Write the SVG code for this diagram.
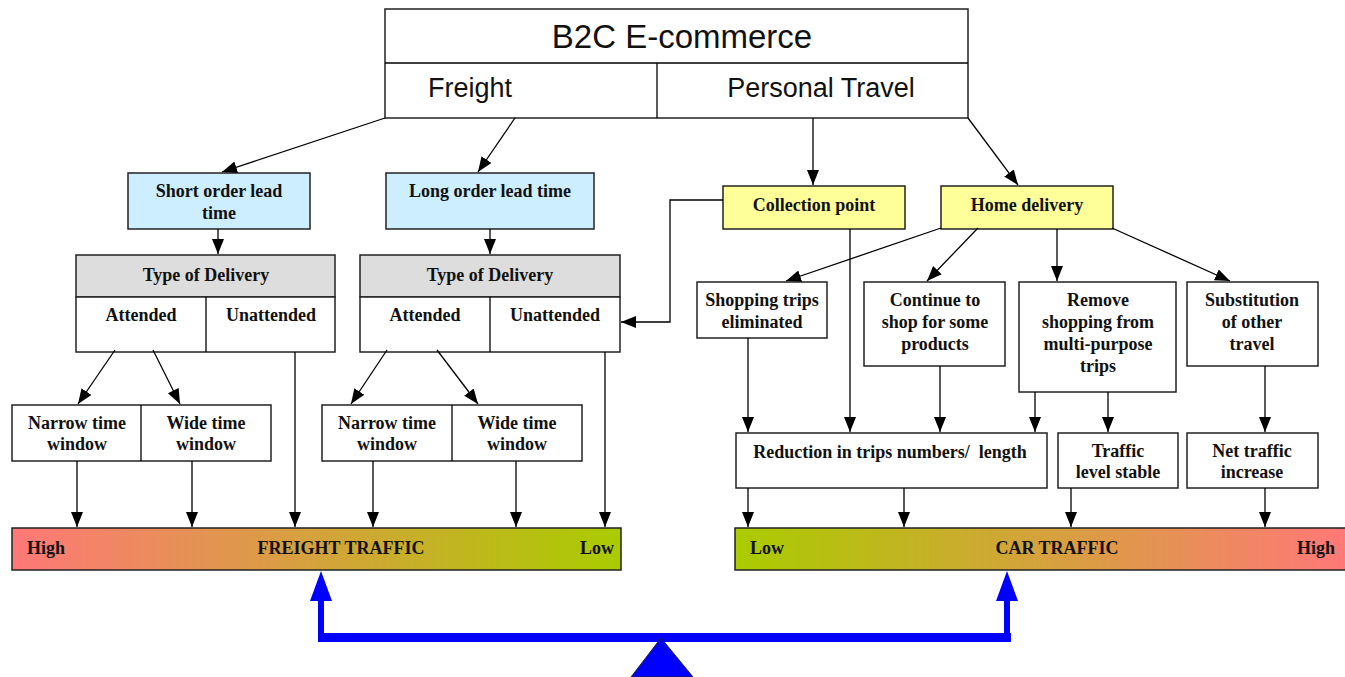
<svg xmlns="http://www.w3.org/2000/svg" width="1345" height="677" viewBox="0 0 1345 677">
<style>
.box{fill:#fff;stroke:#222;stroke-width:1.5}
.blue{fill:#cceeff;stroke:#222;stroke-width:1.5}
.yel{fill:#ffff99;stroke:#222;stroke-width:1.5}
.grey{fill:#dddddd;stroke:#222;stroke-width:1.5}
.t{font-family:"Liberation Serif","Times New Roman",serif;font-weight:bold;font-size:18px;fill:#111;text-anchor:middle;white-space:pre}
.tl{font-family:"Liberation Serif","Times New Roman",serif;font-weight:bold;font-size:18px;fill:#111}
.s{font-family:"Liberation Sans",Arial,sans-serif;fill:#111;text-anchor:middle}
.c{fill:none;stroke:#000;stroke-width:1.3;marker-end:url(#ah)}
.cn{fill:none;stroke:#000;stroke-width:1.3}
</style>
<defs>
<marker id="ah" markerUnits="userSpaceOnUse" markerWidth="16" markerHeight="16" viewBox="0 0 16 16" refX="15" refY="8" orient="auto">
<path d="M0,2 L15,8 L0,14 z" fill="#000"/>
</marker>
<linearGradient id="gF" x1="0" y1="0" x2="1" y2="0">
<stop offset="0" stop-color="#ff7878"/>
<stop offset="1" stop-color="#aacc00"/>
</linearGradient>
<linearGradient id="gC" x1="0" y1="0" x2="1" y2="0">
<stop offset="0" stop-color="#aacc00"/>
<stop offset="1" stop-color="#ff7878"/>
</linearGradient>
</defs>

<g id="b2c">
<rect class="box" x="385" y="9" width="583" height="109"/>
<line class="cn" x1="385" y1="63" x2="968" y2="63"/>
<line class="cn" x1="657" y1="63" x2="657" y2="118"/>
<text class="s" x="682" y="48" font-size="33">B2C E-commerce</text>
<text class="s" x="470" y="97" font-size="27">Freight</text>
<text class="s" x="821" y="97" font-size="27">Personal Travel</text>
</g>

<g id="short-lead">
<rect class="blue" x="128" y="173" width="182" height="56"/>
<text class="t" x="219" y="197">Short order lead</text>
<text class="t" x="219" y="219">time</text>
</g>
<g id="long-lead">
<rect class="blue" x="386" y="173" width="208" height="56"/>
<text class="t" x="490" y="197">Long order lead time</text>
</g>

<g id="delivery-left">
<rect class="grey" x="76" y="255" width="259" height="42"/>
<rect class="box" x="76" y="297" width="259" height="55"/>
<line class="cn" x1="206" y1="297" x2="206" y2="352"/>
<text class="t" x="206" y="281">Type of Delivery</text>
<text class="t" x="141" y="321">Attended</text>
<text class="t" x="271" y="321">Unattended</text>
</g>
<g id="delivery-right">
<rect class="grey" x="360" y="255" width="260" height="42"/>
<rect class="box" x="360" y="297" width="260" height="55"/>
<line class="cn" x1="490" y1="297" x2="490" y2="352"/>
<text class="t" x="490" y="281">Type of Delivery</text>
<text class="t" x="425" y="321">Attended</text>
<text class="t" x="555" y="321">Unattended</text>
</g>

<g id="window-left">
<rect class="box" x="12" y="405" width="259" height="56"/>
<line class="cn" x1="141" y1="405" x2="141" y2="461"/>
<text class="t" x="77" y="429">Narrow time</text>
<text class="t" x="77" y="450">window</text>
<text class="t" x="206" y="429">Wide time</text>
<text class="t" x="206" y="450">window</text>
</g>
<g id="window-right">
<rect class="box" x="322" y="405" width="260" height="56"/>
<line class="cn" x1="452" y1="405" x2="452" y2="461"/>
<text class="t" x="387" y="429">Narrow time</text>
<text class="t" x="387" y="450">window</text>
<text class="t" x="517" y="429">Wide time</text>
<text class="t" x="517" y="450">window</text>
</g>

<g id="collection">
<rect class="yel" x="723" y="186" width="182" height="43"/>
<text class="t" x="814" y="211">Collection point</text>
</g>
<g id="home">
<rect class="yel" x="941" y="186" width="172" height="43"/>
<text class="t" x="1027" y="211">Home delivery</text>
</g>

<g id="shopping-eliminated">
<rect class="box" x="697" y="282" width="130" height="56"/>
<text class="t" x="762" y="306">Shopping trips</text>
<text class="t" x="762" y="328">eliminated</text>
</g>
<g id="continue">
<rect class="box" x="864" y="282" width="141" height="84"/>
<text class="t" x="935" y="306">Continue to</text>
<text class="t" x="935" y="328">shop for some</text>
<text class="t" x="935" y="350">products</text>
</g>
<g id="remove">
<rect class="box" x="1019" y="282" width="157" height="110"/>
<text class="t" x="1098" y="306">Remove</text>
<text class="t" x="1098" y="328">shopping from</text>
<text class="t" x="1098" y="350">multi-purpose</text>
<text class="t" x="1098" y="372">trips</text>
</g>
<g id="substitution">
<rect class="box" x="1187" y="282" width="131" height="84"/>
<text class="t" x="1252" y="306">Substitution</text>
<text class="t" x="1252" y="328">of other</text>
<text class="t" x="1252" y="350">travel</text>
</g>

<g id="reduction">
<rect class="box" x="736" y="433" width="311" height="55"/>
<text class="t" x="890" y="458">Reduction in trips numbers/  length</text>
</g>
<g id="stable">
<rect class="box" x="1058" y="433" width="120" height="55"/>
<text class="t" x="1118" y="457">Traffic</text>
<text class="t" x="1118" y="478">level stable</text>
</g>
<g id="net">
<rect class="box" x="1187" y="433" width="131" height="55"/>
<text class="t" x="1252" y="457">Net traffic</text>
<text class="t" x="1252" y="478">increase</text>
</g>

<g id="freight-bar">
<rect x="12" y="528" width="609" height="42" fill="url(#gF)" stroke="#222" stroke-width="1.5"/>
<text class="tl" x="27" y="554">High</text>
<text class="t" x="341" y="554">FREIGHT TRAFFIC</text>
<text class="tl" x="580" y="554">Low</text>
</g>
<g id="car-bar">
<rect x="735" y="528" width="612" height="42" fill="url(#gC)" stroke="#222" stroke-width="1.5"/>
<text class="tl" x="750" y="554">Low</text>
<text class="t" x="1057" y="554">CAR TRAFFIC</text>
<text class="tl" x="1297" y="554">High</text>
</g>

<g id="connectors">
<path class="c" d="M385,118 L222,172"/>
<path class="c" d="M515,118 L478,172"/>
<path class="c" d="M813,118 L813,185"/>
<path class="c" d="M968,118 L1018,185"/>
<path class="c" d="M218,229 L218,254"/>
<path class="c" d="M490,229 L490,254"/>
<path class="c" d="M723,200 L670,200 L670,322 L621,322"/>
<path class="c" d="M115,350 L78,404"/>
<path class="c" d="M153,350 L180,404"/>
<path class="c" d="M387,350 L351,404"/>
<path class="c" d="M437,350 L478,404"/>
<path class="c" d="M295,352 L295,527"/>
<path class="c" d="M605,352 L605,527"/>
<path class="c" d="M77,461 L77,527"/>
<path class="c" d="M192,461 L192,527"/>
<path class="c" d="M373,461 L373,527"/>
<path class="c" d="M516,461 L516,527"/>
<path class="c" d="M941,228 L786,281"/>
<path class="c" d="M978,228 L927,281"/>
<path class="c" d="M1057,229 L1057,281"/>
<path class="c" d="M1112,228 L1230,281"/>
<path class="c" d="M748,338 L748,432"/>
<path class="c" d="M850,229 L850,432"/>
<path class="c" d="M940,366 L940,432"/>
<path class="c" d="M1035,392 L1035,432"/>
<path class="c" d="M1108,392 L1108,432"/>
<path class="c" d="M1265,366 L1265,432"/>
<path class="c" d="M748,488 L748,527"/>
<path class="c" d="M904,488 L904,527"/>
<path class="c" d="M1071,488 L1071,527"/>
<path class="c" d="M1265,488 L1265,527"/>
</g>

<g id="balance">
<path d="M321,600 L321,637 L1007,637 L1007,600" fill="none" stroke="#0000ff" stroke-width="6"/>
<rect x="318" y="633" width="693" height="9" fill="#0000ff"/>
<path d="M321,571 L310,601 L332,601 z" fill="#0000ff"/>
<path d="M1007,571 L996,601 L1018,601 z" fill="#0000ff"/>
<path d="M661,638 L631,677 L693,677 z" fill="#0000ff" stroke="#222" stroke-width="1"/>
</g>
</svg>
